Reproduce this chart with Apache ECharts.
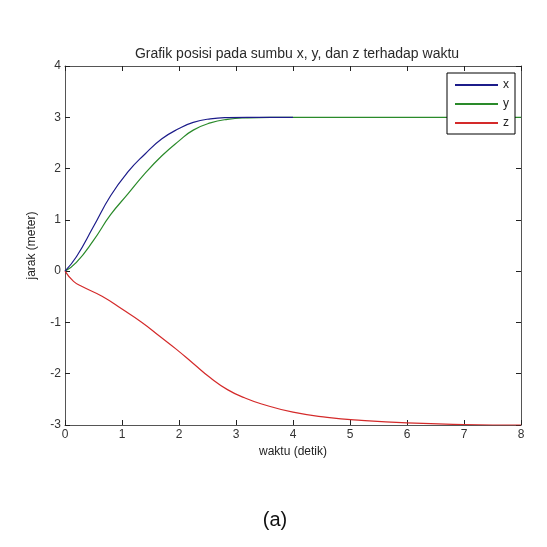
<!DOCTYPE html>
<html>
<head>
<meta charset="utf-8">
<script src="https://cdn.jsdelivr.net/npm/echarts@6/dist/echarts.min.js"></script>
<style>
  html, body { margin: 0; padding: 0; background: #fff; }
  #chart { width: 547px; height: 547px; }
</style>
</head>
<body>
<div id="chart"></div>
<script>
const xTimes = [0, 0.2, 0.5, 0.8, 1.1, 1.4, 1.7, 2.0, 2.25, 2.55, 2.85, 3.2, 3.6, 4.0]
const xValues = [0, 0.28, 0.87, 1.47, 1.93, 2.28, 2.58, 2.78, 2.9, 2.97, 2.995, 3, 3, 3]

const yTimes = [0, 0.2, 0.5, 0.8, 1.1, 1.4, 1.7, 2.0, 2.25, 2.55, 2.85, 3.2, 3.6, 4, 5, 6, 7, 8]
const yValues = [0, 0.17, 0.6, 1.1, 1.5, 1.9, 2.25, 2.54, 2.75, 2.89, 2.96, 2.99, 3, 3, 3, 3, 3, 3]

const zTimes = [0, 0.15, 0.3, 0.65, 1.0, 1.35, 1.65, 1.95, 2.25, 2.55, 2.85, 3.15, 3.45, 4.0, 4.6, 5.2, 6, 7, 8]
const zValues = [0, -0.2, -0.3, -0.49, -0.74, -1.0, -1.26, -1.52, -1.8, -2.08, -2.31, -2.47, -2.59, -2.75, -2.85, -2.91, -2.96, -2.99, -3]

const seriesNames = ['x', 'y', 'z']

const pairs = (ts, vs) => ts.map((t, i) => [t, vs[i]])

const font = 'Liberation Sans, Arial, sans-serif'
const axisColor = '#555'
const tickStyle = { show: true, inside: true, length: 5, lineStyle: { color: '#222' } }

const chart = echarts.init(document.getElementById('chart'))

function lineSeries(name, data, color, z) {
  return {
    name, type: 'line', data, z,
    smooth: 0.5,
    showSymbol: false, symbol: 'none',
    lineStyle: { color, width: 1.2 },
    itemStyle: { color },
  }
}

chart.setOption({
  backgroundColor: '#fff',
  animation: false,
  title: [
    {
      text: 'Grafik posisi pada sumbu x, y, dan z terhadap waktu',
      left: 292, top: 42, textAlign: 'center',
      textStyle: { fontFamily: font, fontSize: 14, fontWeight: 'normal', color: '#2a2a2a' },
    },
    {
      text: '(a)',
      left: 270, top: 505, textAlign: 'center',
      textStyle: { fontFamily: font, fontSize: 20, fontWeight: 'normal', color: '#111' },
    },
  ],
  grid: { left: 65, top: 66, right: 26, bottom: 122, containLabel: false },
  legend: {
    data: seriesNames,
    orient: 'vertical',
    right: 32, top: 73,
    padding: [6, 6, 5, 7],
    itemWidth: 43, itemHeight: 10, itemGap: 7,
    itemStyle: { opacity: 0 },
    borderColor: '#000', borderWidth: 1, borderRadius: 0,
    backgroundColor: '#fff',
    textStyle: { fontFamily: font, fontSize: 12, color: '#222' },
  },
  xAxis: [
    {
      type: 'value', min: 0, max: 8, interval: 1,
      name: 'waktu (detik)', nameLocation: 'middle', nameGap: 14,
      nameTextStyle: { fontFamily: font, fontSize: 12, color: '#222' },
      axisLine: { show: true, onZero: false, lineStyle: { color: axisColor } },
      axisTick: tickStyle,
      axisLabel: { fontFamily: font, fontSize: 12, color: '#333', margin: 4 },
      splitLine: { show: false },
    },
    {
      type: 'value', min: 0, max: 8, interval: 1, position: 'top',
      axisLine: { show: true, onZero: false, lineStyle: { color: axisColor } },
      axisTick: tickStyle,
      axisLabel: { show: false },
      splitLine: { show: false },
    },
  ],
  yAxis: [
    {
      type: 'value', min: -3, max: 4, interval: 1,
      name: 'jarak (meter)', nameLocation: 'middle', nameGap: 27, nameRotate: 90,
      nameTextStyle: { fontFamily: font, fontSize: 12, color: '#222' },
      axisLine: { show: true, onZero: false, lineStyle: { color: axisColor } },
      axisTick: tickStyle,
      axisLabel: { fontFamily: font, fontSize: 12, color: '#333', margin: 4 },
      splitLine: { show: false },
    },
    {
      type: 'value', min: -3, max: 4, interval: 1, position: 'right',
      axisLine: { show: true, onZero: false, lineStyle: { color: axisColor } },
      axisTick: tickStyle,
      axisLabel: { show: false },
      splitLine: { show: false },
    },
  ],
  series: [
    lineSeries('x', pairs(xTimes, xValues), '#1c1c8a', 4),
    lineSeries('y', pairs(yTimes, yValues), '#2a8a2a', 3),
    lineSeries('z', pairs(zTimes, zValues), '#d42a2a', 3),
  ],
})
</script>
</body>
</html>
